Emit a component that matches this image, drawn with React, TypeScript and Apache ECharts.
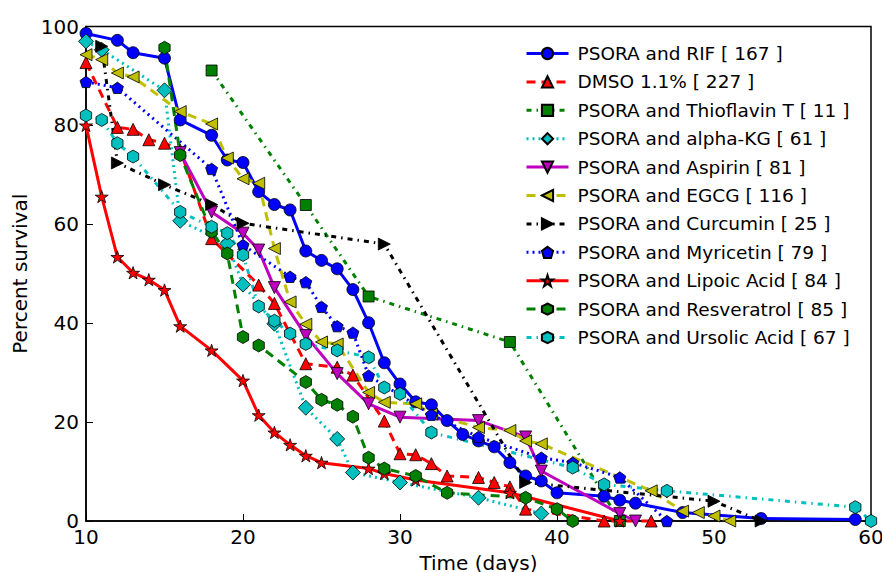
import React, { useEffect, useRef } from "react";
import * as echarts from "echarts";

// ---- data ----
const rifDays = [10, 12, 13, 15, 16, 18, 19, 20, 21, 22, 23, 24, 25, 26, 27, 28, 29, 30, 31, 32, 33, 34, 35, 36, 37, 38, 39, 40, 43, 44, 45, 48, 53, 59];
const rifPct = [98.6, 97.2, 94.7, 93.6, 81.1, 78, 73, 72.5, 66.6, 64, 62.9, 54.6, 52.7, 51, 46.8, 40.1, 32, 27.7, 24.1, 23.5, 20.3, 17.5, 16.2, 15, 11.8, 9.1, 8.1, 5.7, 5.0, 4.2, 3.6, 1.7, 0.5, 0.3];

const dmsoDays = [10, 12, 13, 14, 15, 16, 18, 21, 22, 24, 26, 27, 29, 30, 31, 32, 33, 35, 36, 37, 38, 43, 46];
const dmsoPct = [92.7, 79.6, 79.2, 77.1, 76.4, 75, 57.1, 47.7, 44, 31.8, 31.1, 29.5, 20.2, 13.6, 13.4, 11.6, 9.1, 8.8, 7.8, 6.9, 2.4, 0, 0];

const thioDays = [18, 24, 28, 37, 44];
const thioPct = [91.1, 63.9, 45.4, 36.2, 0];

const akgDays = [10, 11, 15, 16, 19, 20, 22, 24, 26, 27, 30, 35, 39];
const akgPct = [97, 95.3, 87.1, 60.7, 56.1, 47.8, 39.9, 22.9, 16.6, 9.8, 7.8, 4.7, 1.5];

const aspDays = [16, 18, 20, 21, 22, 24, 26, 28, 30, 35, 38, 39, 44, 45];
const aspPct = [74.5, 62.5, 58.2, 54.8, 47.2, 37.5, 29.8, 23.7, 21, 20.3, 17, 10.1, 1.5, 0];

const egcgDays = [10, 11, 12, 13, 16, 18, 19, 20, 21, 22, 23, 24, 25, 26, 28, 29, 31, 32, 35, 37, 38, 39, 46, 48, 49, 50, 51];
const egcgPct = [94.3, 93.3, 90.6, 89.8, 82.8, 80.3, 73.4, 69.2, 68.3, 55.1, 44.3, 39.8, 36.2, 35.8, 26, 24, 23.7, 21.6, 18.9, 18.3, 16.2, 15.6, 6.1, 2, 1.7, 1, 0];

const curDays = [11, 12, 15, 18, 20, 29, 38, 50, 53];
const curPct = [96, 72.4, 68, 64, 60.2, 56, 7.8, 4, 0];

const myrDays = [10, 12, 18, 20, 23, 24, 25, 26, 27, 28, 32, 35, 39, 41, 44, 47];
const myrPct = [88.8, 87.6, 71.2, 55.8, 49.4, 48.3, 43.3, 39.4, 38.1, 29.4, 21.5, 17, 12.8, 11.8, 8.8, 0];

const lipDays = [10, 11, 12, 13, 14, 15, 16, 18, 20, 21, 22, 23, 24, 25, 28, 29, 31, 37, 44];
const lipPct = [80, 65.6, 53.4, 50.2, 48.8, 46.7, 39.4, 34.5, 28.4, 21.4, 17.9, 15.4, 13.2, 11.8, 10.6, 9.6, 8.3, 5.7, 0];

const resDays = [15, 16, 18, 19, 20, 21, 24, 25, 26, 27, 28, 29, 31, 33, 38, 40, 41];
const resPct = [95.7, 74, 58.5, 54.1, 37.2, 35.5, 28.1, 24.5, 23.5, 21.1, 12.8, 10.6, 9.1, 5.7, 4.7, 2.4, 0];

const ursDays = [10, 11, 12, 13, 16, 18, 19, 20, 21, 22, 23, 24, 26, 28, 29, 30, 32, 41, 43, 47, 59, 60];
const ursPct = [82, 81.1, 76.4, 73.7, 62.5, 59.5, 58.2, 53.8, 43.4, 40.5, 37.9, 35.8, 34.5, 33.1, 27, 25.7, 17.9, 10.8, 7.4, 6.1, 2.8, 0];

const seriesNames = [
  "PSORA and RIF [ 167 ]",
  "DMSO 1.1% [ 227 ]",
  "PSORA and Thioflavin T [ 11 ]",
  "PSORA and alpha-KG [ 61 ]",
  "PSORA and Aspirin [ 81 ]",
  "PSORA and EGCG [ 116 ]",
  "PSORA and Curcumin [ 25 ]",
  "PSORA and Myricetin [ 79 ]",
  "PSORA and Lipoic Acid [ 84 ]",
  "PSORA and Resveratrol [ 85 ]",
  "PSORA and Ursolic Acid [ 67 ]",
];

const xTicks = [10, 20, 30, 40, 50, 60];
const yTicks = [0, 20, 40, 60, 80, 100];

const PENTAGON = "path://M0,-1L0.951,-0.309L0.588,0.809L-0.588,0.809L-0.951,-0.309Z";
const STAR = "path://M0,-1L0.2245,-0.309L0.951,-0.309L0.363,0.118L0.588,0.809L0,0.382L-0.588,0.809L-0.363,0.118L-0.951,-0.309L-0.2245,-0.309Z";
const HEXAGON = "path://M0,-1L0.866,-0.5L0.866,0.5L0,1L-0.866,0.5L-0.866,-0.5Z";

const DASHED: number[] = [9, 6];
const DASHDOT: number[] = [5, 5, 1.5, 5];
const DOTTED: number[] = [2, 4];

function pairs(d: number[], p: number[]) {
  return d.map((x, i) => [x, p[i]]);
}

export default function App() {
  const ref = useRef<HTMLDivElement>(null);
  useEffect(() => {
    if (!ref.current) return;
    const chart = echarts.init(ref.current, null, { renderer: "svg" });
    const mk = (
      name: string,
      data: number[][],
      color: string,
      lineType: any,
      symbol: string,
      size: number,
      rotate = 0
    ) => ({
      name,
      type: "line",
      data,
      symbol,
      symbolSize: size,
      symbolRotate: rotate,
      symbolKeepAspect: true,
      showSymbol: true,
      showAllSymbol: true,
      clip: false,
      itemStyle: { color, borderColor: "#000", borderWidth: 0.8 },
      lineStyle: { color, width: 3, type: lineType },
      emphasis: { disabled: true },
    });
    const series = [
      mk(seriesNames[0], pairs(rifDays, rifPct), "#0000ff", "solid", "circle", 12),
      mk(seriesNames[1], pairs(dmsoDays, dmsoPct), "#ff0000", DASHED, "triangle", 12),
      mk(seriesNames[2], pairs(thioDays, thioPct), "#008000", DASHDOT, "rect", 11),
      mk(seriesNames[3], pairs(akgDays, akgPct), "#00bfbf", DOTTED, "diamond", 15),
      mk(seriesNames[4], pairs(aspDays, aspPct), "#bf00bf", "solid", "triangle", 12, 180),
      mk(seriesNames[5], pairs(egcgDays, egcgPct), "#bfbf00", DASHED, "triangle", 12, 90),
      mk(seriesNames[6], pairs(curDays, curPct), "#000000", DASHDOT, "triangle", 12, -90),
      mk(seriesNames[7], pairs(myrDays, myrPct), "#0000ff", DOTTED, PENTAGON, 12),
      mk(seriesNames[8], pairs(lipDays, lipPct), "#ff0000", "solid", STAR, 13),
      mk(seriesNames[9], pairs(resDays, resPct), "#008000", DASHED, HEXAGON, 13),
      mk(seriesNames[10], pairs(ursDays, ursPct), "#00bfbf", DASHDOT, HEXAGON, 13),
    ];
    chart.setOption({
      animation: false,
      textStyle: { fontFamily: "DejaVu Sans" },
      grid: {
        left: 86,
        right: 11,
        top: 26.5,
        bottom: 51,
        containLabel: false,
        outerBoundsMode: "none",
        show: true,
        borderColor: "#000",
        borderWidth: 1.5,
        backgroundColor: "transparent",
      },
      legend: {
        data: seriesNames,
        orient: "vertical",
        left: 520,
        top: 39,
        itemWidth: 42,
        itemHeight: 14,
        itemGap: 9.4,
        lineStyle: { width: 3 },
        textStyle: { fontSize: 18.5, color: "#000", fontFamily: "DejaVu Sans", padding: [0, 0, 0, 4] },
        selectedMode: false,
      },
      xAxis: [
        {
          type: "value",
          min: xTicks[0],
          max: xTicks[xTicks.length - 1],
          interval: 10,
          name: "Time (days)",
          nameLocation: "middle",
          nameGap: 32,
          nameTextStyle: { fontSize: 20, color: "#000" },
          axisLine: { show: true, lineStyle: { color: "#000", width: 1.5 } },
          axisTick: { show: true, inside: true, length: 7, lineStyle: { color: "#000" } },
          axisLabel: { fontSize: 20, color: "#000", margin: 6 },
          splitLine: { show: false },
        },
      ],
      yAxis: [
        {
          type: "value",
          min: yTicks[0],
          max: yTicks[yTicks.length - 1],
          interval: 20,
          name: "Percent survival",
          nameLocation: "middle",
          nameGap: 56,
          nameRotate: 90,
          nameTextStyle: { fontSize: 20, color: "#000" },
          axisLine: { show: true, lineStyle: { color: "#000", width: 1.5 } },
          axisTick: { show: true, inside: true, length: 7, lineStyle: { color: "#000" } },
          axisLabel: { fontSize: 20, color: "#000", margin: 7 },
          splitLine: { show: false },
        },
      ],
      series,
    });
    return () => chart.dispose();
  }, []);
  return <div ref={ref} style={{ width: 882, height: 572, position: "absolute", left: 0, top: 0 }} />;
}
